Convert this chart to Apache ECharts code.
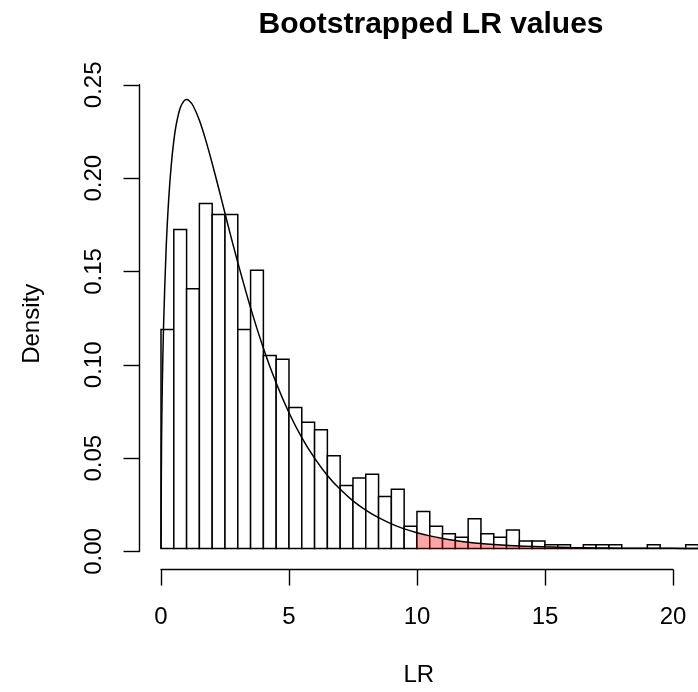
<!DOCTYPE html>
<html>
<head>
<meta charset="utf-8">
<script src="https://cdn.jsdelivr.net/npm/echarts@6/dist/echarts.min.js"></script>
<style>
html,body{margin:0;padding:0;background:#fff;}
#chart{width:698px;height:692px;}
</style>
</head>
<body>
<div id="chart"></div>
<script>
// Histogram bins (width 0.5) and densities
var binStarts = [0,0.5,1,1.5,2,2.5,3,3.5,4,4.5,5,5.5,6,6.5,7,7.5,8,8.5,9,9.5,10,10.5,11,11.5,12,12.5,13,13.5,14,14.5,15,15.5,16,16.5,17,17.5,18,18.5,19,19.5,20,20.5];
var binWidth = 0.5;
var densities = [0.118,0.172,0.140,0.186,0.180,0.180,0.118,0.150,0.104,0.102,0.076,0.068,0.064,0.050,0.034,0.038,0.040,0.028,0.032,0.012,0.020,0.012,0.008,0.006,0.016,0.008,0.006,0.010,0.004,0.004,0.002,0.002,0,0.002,0.002,0.002,0,0,0.002,0,0,0.002];

// Reference density curve
var curveX = [0,0.02,0.05,0.1,0.2,0.3,0.4,0.5,0.6,0.75,0.9,1,1.1,1.25,1.5,1.75,2,2.25,2.5,2.75,3,3.5,4,4.5,5,5.5,6,6.5,7,7.5,8,8.5,9,9.5,10,10.5,11,11.5,12,12.5,13,14,15,16,17,18,19,20,21];
var curveY = [0,0.0559,0.0870,0.1200,0.1614,0.1881,0.2066,0.2197,0.2289,0.2375,0.2413,0.2420,0.2414,0.2388,0.2308,0.2200,0.2076,0.1943,0.1807,0.1672,0.1542,0.1297,0.1080,0.0892,0.0732,0.0598,0.0487,0.0394,0.0319,0.0257,0.0207,0.0166,0.0133,0.0106,0.0085,0.0068,0.0054,0.0043,0.0034,0.0027,0.0022,0.0014,0.0009,0.0005,0.0003,0.0002,0.0001,0.0001,0.0000];
var tailStart = 10;

var xTicks = [0,5,10,15,20];
var yTicks = [0,0.05,0.10,0.15,0.20,0.25];

var FONT = 'Liberation Sans, Arial, Helvetica, sans-serif';

var barData = binStarts.map(function(s,i){ return [s, s+binWidth, densities[i]]; });
var curveData = curveX.map(function(x,i){ return [x, curveY[i]]; });
var tailData = curveData.filter(function(p){ return p[0] >= tailStart; });

var chart = echarts.init(document.getElementById('chart'), null, {renderer:'canvas'});

var gridTop = 81.2, gridBottom = 122.4;
var option = {
  animation: false,
  backgroundColor: '#ffffff',
  title: {
    text: 'Bootstrapped LR values',
    left: 426, top: 5, textAlign: 'center',
    textStyle: {fontFamily: FONT, fontWeight: 'bold', fontSize: 30, color: '#000'}
  },
  grid: [
    {left: 139.5, right: 0, top: gridTop, bottom: gridBottom},
    {left: 161, width: 512, top: gridTop, bottom: gridBottom},
    {left: 139.5, width: 10, top: 84.8, height: 466.7}
  ],
  xAxis: [
    {gridIndex:0, type:'value', min:-0.84, max:20.98,
     axisLine:{show:false}, axisTick:{show:false}, axisLabel:{show:false}, splitLine:{show:false},
     name:'LR', nameLocation:'middle', nameGap:96.5,
     nameTextStyle:{fontFamily:FONT, fontSize:24, color:'#000'}},
    {gridIndex:1, type:'value', min:xTicks[0], max:xTicks[xTicks.length-1], interval:5, position:'bottom',
     axisLine:{show:true, lineStyle:{color:'#000', width:1.4}},
     axisTick:{show:true, length:16, inside:false, lineStyle:{color:'#000', width:1.4}},
     axisLabel:{show:true, margin:35.5, fontFamily:FONT, fontSize:24, color:'#000'},
     splitLine:{show:false}},
    {gridIndex:2, type:'value', show:false, min:0, max:1}
  ],
  yAxis: [
    {gridIndex:0, type:'value', min:-0.0097, max:0.2519,
     axisLine:{show:false}, axisTick:{show:false}, axisLabel:{show:false}, splitLine:{show:false},
     name:'Density', nameLocation:'middle', nameGap:95,
     nameTextStyle:{fontFamily:FONT, fontSize:24, color:'#000'}},
    {gridIndex:1, type:'value', show:false, min:0, max:1},
    {gridIndex:2, type:'value', min:yTicks[0], max:yTicks[yTicks.length-1], interval:0.05, position:'left',
     axisLine:{show:true, lineStyle:{color:'#000', width:1.4}},
     axisTick:{show:true, length:16, inside:false, lineStyle:{color:'#000', width:1.4}},
     axisLabel:{show:true, rotate:90, margin:33, fontFamily:FONT, fontSize:24, color:'#000',
       formatter:function(v){ return v.toFixed(2); }},
     splitLine:{show:false}}
  ],
  series: [
    {
      type:'custom', xAxisIndex:0, yAxisIndex:0, z:2, clip:true,
      data: barData,
      renderItem: function(params, api){
        var p0 = api.coord([api.value(0), api.value(2)]);
        var p1 = api.coord([api.value(1), 0]);
        return {
          type:'rect',
          shape:{x:p0[0], y:p0[1], width:p1[0]-p0[0], height:p1[1]-p0[1]},
          style:{fill:'#ffffff', stroke:'#000000', lineWidth:1.5}
        };
      }
    },
    {
      type:'line', xAxisIndex:0, yAxisIndex:0, z:3,
      data: tailData, smooth:true, symbol:'none',
      lineStyle:{width:0, opacity:0},
      areaStyle:{color:'rgba(255,0,0,0.5)', origin:0}
    },
    {
      type:'line', xAxisIndex:0, yAxisIndex:0, z:4,
      data: curveData, smooth:0.3, symbol:'none',
      lineStyle:{color:'#000', width:1.5}
    }
  ]
};
chart.setOption(option);
</script>
</body>
</html>
